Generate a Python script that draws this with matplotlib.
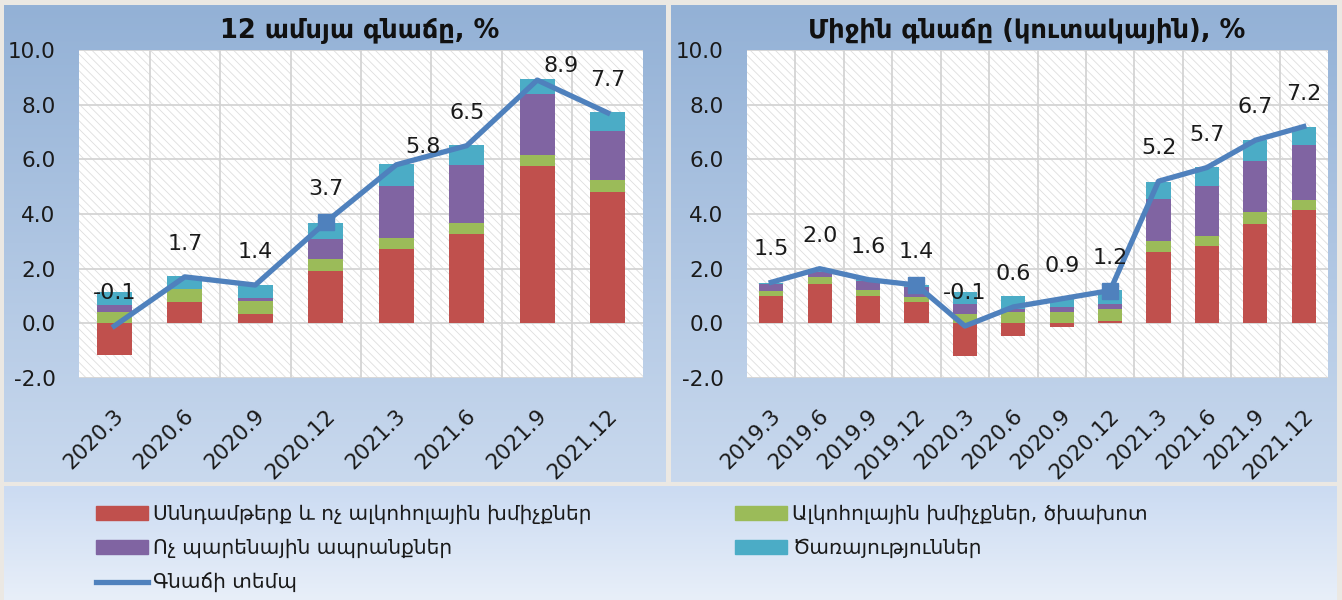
import matplotlib.pyplot as plt
import numpy as np
import matplotlib.transforms as mtransforms
from matplotlib.patches import Rectangle, Patch
from matplotlib.lines import Line2D
from matplotlib.colors import LinearSegmentedColormap

plt.rcParams['font.family'] = ['DejaVu Sans']
plt.rcParams['hatch.linewidth'] = 0.6

# --- data ---
# left: 12-month inflation, contributions
q_left = ['2020.3', '2020.6', '2020.9', '2020.12', '2021.3', '2021.6', '2021.9', '2021.12']
food_left = [-1.17, 0.77, 0.34, 1.92, 2.72, 3.28, 5.74, 4.81]
alco_left = [0.40, 0.47, 0.47, 0.43, 0.42, 0.39, 0.43, 0.42]
nonfood_left = [0.28, 0.00, 0.11, 0.75, 1.89, 2.12, 2.23, 1.80]
serv_left = [0.46, 0.48, 0.47, 0.57, 0.81, 0.75, 0.55, 0.70]
cpi_left = [-0.1, 1.7, 1.4, 3.7, 5.8, 6.5, 8.9, 7.7]

# right: average (cumulative) inflation, contributions
q_right = ['2019.3', '2019.6', '2019.9', '2019.12', '2020.3', '2020.6', '2020.9', '2020.12',
           '2021.3', '2021.6', '2021.9', '2021.12']
food_right = [1.01, 1.44, 1.01, 0.77, -1.19, -0.46, -0.12, 0.10, 2.60, 2.82, 3.64, 4.16]
alco_right = [0.18, 0.27, 0.21, 0.21, 0.34, 0.41, 0.41, 0.41, 0.43, 0.39, 0.43, 0.37]
nonfood_right = [0.24, 0.16, 0.34, 0.34, 0.37, 0.10, 0.19, 0.21, 1.53, 1.80, 1.87, 1.99]
serv_right = [0.03, 0.10, 0.05, 0.10, 0.43, 0.50, 0.31, 0.50, 0.61, 0.71, 0.76, 0.67]
cpi_right = [1.5, 2.0, 1.6, 1.4, -0.1, 0.6, 0.9, 1.2, 5.2, 5.7, 6.7, 7.2]

titles = ['12 ամսյա գնաճը, %', 'Միջին գնաճը (կուտակային), %']
legend_labels = ['Սննդամթերք և ոչ ալկոհոլային խմիչքներ',
                 'Ալկոհոլային խմիչքներ, ծխախոտ',
                 'Ոչ պարենային ապրանքներ',
                 'Ծառայություններ',
                 'Գնաճի տեմպ']

colors = ['#C0504D', '#9BBB59', '#8064A2', '#4BACC6']
line_color = '#4F81BD'
grid_color = '#d4d4d4'
hatch_color = '#dedede'

W, H = 1342, 600
fig = plt.figure(figsize=(W / 100, H / 100), dpi=100, facecolor='#ebe8e3')


def px_box(x0, y0, x1, y1):
    return [x0 / W, 1 - y1 / H, (x1 - x0) / W, (y1 - y0) / H]


def gradient(box, top, bottom):
    a = fig.add_axes(box, zorder=0)
    cmap = LinearSegmentedColormap.from_list('g', [top, bottom])
    a.imshow(np.linspace(0, 1, 256).reshape(-1, 1), aspect='auto', cmap=cmap,
             extent=[0, 1, 0, 1])
    a.set_axis_off()


gradient(px_box(4, 5, 666, 482), '#93b1d6', '#c9d9ee')
gradient(px_box(671, 5, 1337, 482), '#93b1d6', '#c9d9ee')
gradient(px_box(4, 486, 1337, 600), '#cbdbf2', '#e8eff9')


def chart(box, cats, parts, cpi, marks, title, title_x, label_shift):
    ax = fig.add_axes(box, zorder=2)
    ax.set_facecolor('none')
    ax.add_patch(Rectangle((0, 0), 1, 1, transform=ax.transAxes, facecolor='white',
                           edgecolor=hatch_color, hatch='\\\\\\\\', lw=0, zorder=0))
    x = np.arange(len(cats))
    pos = np.zeros(len(x))
    neg = np.zeros(len(x))
    for vals, c in zip(parts, colors):
        vals = np.asarray(vals)
        bottom = np.where(vals >= 0, pos, neg)
        ax.bar(x, vals, 0.5, bottom=bottom, color=c, zorder=3)
        pos += np.clip(vals, 0, None)
        neg += np.clip(vals, None, 0)
    ax.plot(x, cpi, color=line_color, lw=3.8, zorder=4)
    ax.plot(x[marks], np.asarray(cpi)[marks], 's', color=line_color, ms=12, zorder=4)
    for i, v in enumerate(cpi):
        dx, dy = label_shift.get(i, (0, 33))
        ax.annotate(f'{v:.1f}', (x[i], v), xytext=(dx, dy), textcoords='offset pixels',
                    ha='center', va='center', fontsize=16, color='#1a1a1a', zorder=5)
    ax.set_xlim(-0.5, len(cats) - 0.5)
    ax.set_ylim(-2, 10)
    ax.set_yticks(np.arange(-2, 10.1, 2))
    ax.set_yticklabels([f'{t:.1f}' for t in np.arange(-2, 10.1, 2)])
    ax.set_xticks(x)
    ax.set_xticklabels(cats, rotation=45, ha='right', va='center', rotation_mode='anchor')
    ax.set_xticks(x[:-1] + 0.5, minor=True)
    ax.tick_params(axis='x', which='major', length=0, pad=25, labelsize=15.5, labelcolor='#1a1a1a')
    ax.tick_params(axis='x', which='minor', length=0)
    ax.tick_params(axis='y', length=0, pad=17, labelsize=15.5, labelcolor='#1a1a1a')
    shift = mtransforms.ScaledTranslation(6 / 100, 0, fig.dpi_scale_trans)
    for lab in ax.get_xticklabels():
        lab.set_transform(lab.get_transform() + shift)
    ax.grid(axis='y', which='major', color=grid_color, lw=1.3, zorder=1)
    ax.grid(axis='x', which='minor', color=grid_color, lw=1.3, zorder=1)
    for s in ax.spines.values():
        s.set_visible(False)
    fig.text(title_x / W, 1 - 31 / H, title, ha='center', va='center',
             fontsize=18.5, fontweight='bold', color='#111111')
    return ax


chart(px_box(79, 50, 643, 378), q_left,
      [food_left, alco_left, nonfood_left, serv_left], cpi_left, [3],
      titles[0], 360, {4: (27, 18), 6: (24, 14)})
chart(px_box(747, 50, 1328, 378), q_right,
      [food_right, alco_right, nonfood_right, serv_right], cpi_right, [3, 7],
      titles[1], 1027, {})

# legend, two columns drawn separately
h_red = Patch(color=colors[0])
h_green = Patch(color=colors[1])
h_purple = Patch(color=colors[2])
h_teal = Patch(color=colors[3])
h_line = Line2D([], [], color=line_color, lw=3.8)
common = dict(frameon=False, fontsize=14.5, handlelength=2.6, handleheight=0.65,
              handletextpad=0.25, labelspacing=0.72, borderaxespad=0, borderpad=0)
leg1 = fig.legend([h_red, h_purple, h_line], [legend_labels[0], legend_labels[2], legend_labels[4]],
                  loc='upper left', bbox_to_anchor=(96 / W, 1 - 505 / H), **common)
leg2 = fig.legend([h_green, h_teal], [legend_labels[1], legend_labels[3]],
                  loc='upper left', bbox_to_anchor=(735 / W, 1 - 505 / H), **common)
for lg in (leg1, leg2):
    for t in lg.get_texts():
        t.set_color('#1a1a1a')

fig.savefig('out.png', dpi=100, facecolor=fig.get_facecolor())
